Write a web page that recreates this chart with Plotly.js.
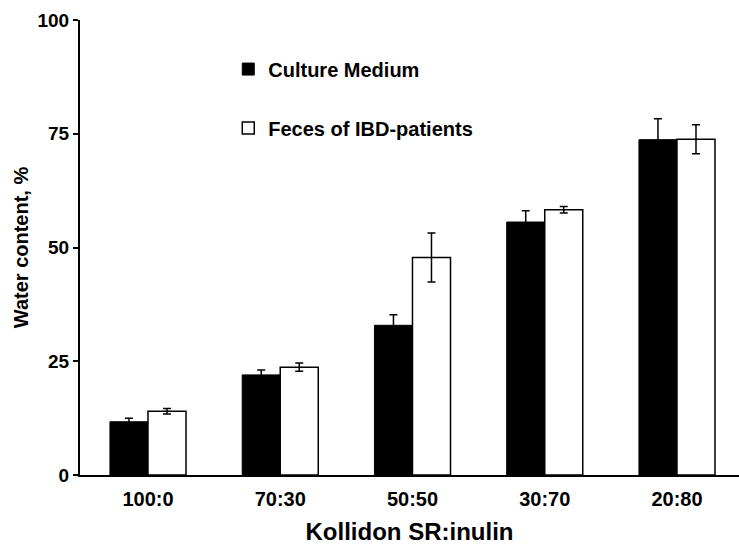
<!DOCTYPE html>
<html>
<head>
<meta charset="utf-8">
<script src="https://cdn.plot.ly/plotly-3.0.1.min.js"></script>
<style>
  html, body { margin: 0; padding: 0; background: #fff; overflow: hidden; }
  #chart { width: 739px; height: 546px; }
</style>
</head>
<body>
<div id="chart"></div>
<script>
// Kollidon SR:inulin ratios
const ratios = ['100:0', '70:30', '50:50', '30:70', '20:80'];

const cultureMedium = [11.7, 22.0, 32.9, 55.6, 73.7];
const cultureErr    = [0.8, 1.1, 2.3, 2.5, 4.6];

const fecesIBD      = [14.0, 23.7, 47.8, 58.3, 73.8];
const fecesErr      = [0.6, 0.9, 5.4, 0.7, 3.2];

const FONT = 'Arial, "Liberation Sans", sans-serif';

const errStyle = (arr) => ({
    type: 'data', array: arr, visible: true,
    color: '#000', thickness: 1.5, width: 4
});

const traces = [
    {
        x: ratios, y: cultureMedium, type: 'bar', name: 'Culture Medium',
        legendgroup: 'a',
        marker: { color: '#000', line: { color: '#000', width: 1 } },
        error_y: errStyle(cultureErr)
    },
    {
        x: ratios, y: fecesIBD, type: 'bar', name: 'Feces of IBD-patients',
        legendgroup: 'b',
        marker: { color: '#fff', line: { color: '#000', width: 1.5 } },
        error_y: errStyle(fecesErr)
    }
];

const layout = {
    width: 739, height: 546,
    margin: { l: 80, r: 0, t: 20, b: 71 },
    paper_bgcolor: '#fff', plot_bgcolor: '#fff',
    font: { family: FONT, color: '#000', size: 16 },
    barmode: 'group', bargap: 0.425, bargroupgap: 0,
    showlegend: true,
    legend: {
        x: 0.225, y: 0.935, xanchor: 'left', yanchor: 'top',
        bgcolor: 'rgba(0,0,0,0)',
        traceorder: 'grouped', tracegroupgap: 30,
        font: { family: FONT, size: 20, color: '#000', weight: 'bold' }
    },
    xaxis: {
        range: [-0.514, 4.469],
        showline: true, linecolor: '#000', linewidth: 2,
        ticks: '', showgrid: false, zeroline: false,
        ticklabelstandoff: 5,
        tickfont: { family: FONT, size: 20, weight: 'bold' },
        title: { text: 'Kollidon SR:inulin', standoff: 14,
                 font: { family: FONT, size: 24, weight: 'bold' } }
    },
    yaxis: {
        range: [0, 100], tickvals: [0, 25, 50, 75, 100],
        showline: true, linecolor: '#000', linewidth: 2,
        ticks: 'outside', ticklen: 5, tickwidth: 2, tickcolor: '#000',
        showgrid: false, zeroline: false,
        tickfont: { family: FONT, size: 19, weight: 'bold' },
        title: { text: 'Water content, %', standoff: 3,
                 font: { family: FONT, size: 20, weight: 'bold' } }
    }
};

Plotly.newPlot('chart', traces, layout, { staticPlot: true, displayModeBar: false });
</script>
</body>
</html>
